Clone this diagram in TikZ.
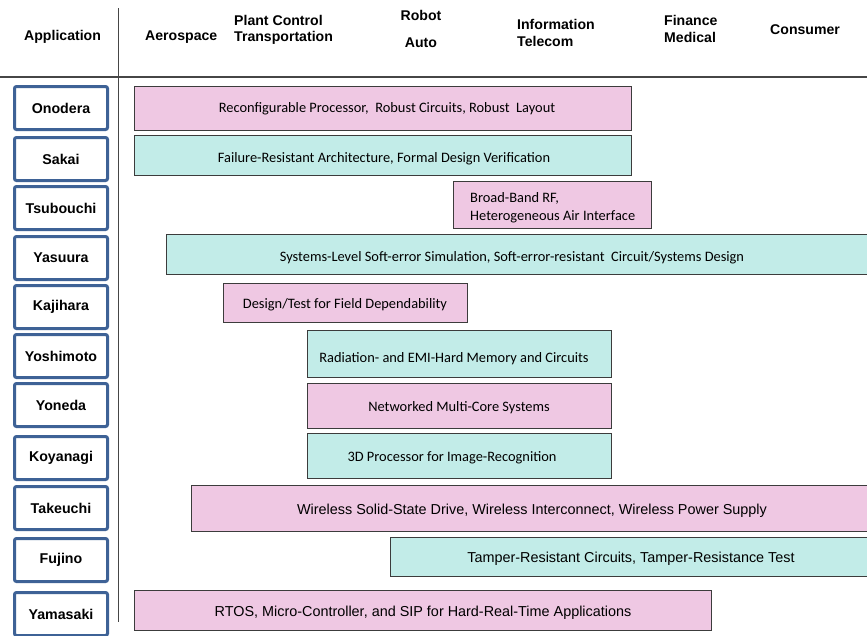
\documentclass[tikz,border=0pt]{standalone}
\usepackage{fontspec}
\setmainfont{Liberation Sans}
\newfontfamily\calib{Carlito}
\definecolor{barpink}{RGB}{239,200,227}
\definecolor{barteal}{RGB}{194,236,232}
\definecolor{barline}{RGB}{60,60,60}
\definecolor{namebox}{RGB}{62,98,150}
\definecolor{rule}{RGB}{70,70,70}
\tikzset{
  namecell/.style={draw=namebox, line width=3pt, rounded corners=2pt, fill=white,
    minimum width=93pt, minimum height=43pt, inner sep=0pt,
    font=\fontsize{14.2}{16}\selectfont\bfseries},
  head/.style={font=\fontsize{14.1}{16}\selectfont\bfseries, inner sep=0pt},
  barbox/.style={draw=barline, line width=1.1pt, inner sep=0pt},
  pinkbar/.style={barbox, fill=barpink},
  tealbar/.style={barbox, fill=barteal},
  ctext/.style={font=\calib\fontsize{14.4}{17.5}\selectfont, inner sep=0pt, yshift=-1.5pt},
  atext/.style={font=\fontsize{14.4}{17}\selectfont, inner sep=0pt, yshift=-1.5pt}
}
\newcommand{\appbar}[6]{%
  \node[#6, minimum width={#4pt-#2pt-1.1pt}, minimum height={#5pt-#3pt-1.1pt}]
    (#1) at ({(#2+#4)/2}, {-(#3+#5)/2}) {};}
\begin{document}
\begin{tikzpicture}[x=1pt, y=1pt]
\useasboundingbox (0,0) rectangle (867,-635);
\clip (0,0) rectangle (867,-635);

% header
\begin{scope}[yshift=-1.5pt]
\node[head, anchor=west] (happ) at (24,-35) {Application};
\node[head, anchor=west] (haero) at (145,-36) {Aerospace};
\node[head, anchor=west] (hplant) at (234,-19) {Plant Control};
\node[head, anchor=west] (htrans) at (234,-36) {Transportation};
\node[head] (hrobot) at (421,-14) {Robot};
\node[head] (hauto) at (421,-41) {Auto};
\node[head, anchor=west] (hinfo) at (517,-23) {Information};
\node[head, anchor=west] (htele) at (517,-40) {Telecom};
\node[head, anchor=west] (hfin) at (664,-19) {Finance};
\node[head, anchor=west] (hmed) at (664,-36) {Medical};
\node[head, anchor=west] (hcons) at (770,-28) {Consumer};
\end{scope}

% grid lines
\coordinate (vtop) at (118,-8);
\coordinate (vbot) at (118,-622);
\coordinate (hl) at (0,-77);
\coordinate (hr) at (867,-77);
\draw[rule, line width=1pt] (vtop) -- (vbot);
\draw[rule, line width=1.2pt] (hl) -- (hr);

% names
\node[namecell] (nOnodera) at (61,-108) {Onodera};
\node[namecell] (nSakai) at (61,-159) {Sakai};
\node[namecell] (nTsubouchi) at (61,-208) {Tsubouchi};
\node[namecell] (nYasuura) at (61,-258) {Yasuura};
\node[namecell] (nKajihara) at (61,-307) {Kajihara};
\node[namecell] (nYoshimoto) at (61,-356) {Yoshimoto};
\node[namecell] (nYoneda) at (61,-405) {Yoneda};
\node[namecell] (nKoyanagi) at (61,-458) {Koyanagi};
\node[namecell] (nTakeuchi) at (61,-508) {Takeuchi};
\node[namecell] (nFujino) at (61,-560) {Fujino};
\node[namecell] (nYamasaki) at (61,-614) {Yamasaki};

% research bars
\appbar{bOnodera}{134}{86}{632}{131}{pinkbar}
\appbar{bSakai}{134}{135}{632}{176}{tealbar}
\appbar{bTsubouchi}{453}{181}{652}{229}{pinkbar}
\appbar{bYasuura}{166}{234}{890}{275}{tealbar}
\appbar{bKajihara}{223}{283}{468}{323}{pinkbar}
\appbar{bYoshimoto}{307}{330}{612}{378}{tealbar}
\appbar{bYoneda}{307}{383}{612}{429}{pinkbar}
\appbar{bKoyanagi}{307}{433}{612}{479}{tealbar}
\appbar{bTakeuchi}{191}{485}{890}{532}{pinkbar}
\appbar{bFujino}{390}{537}{890}{577}{tealbar}
\appbar{bYamasaki}{134}{590}{712}{631}{pinkbar}

% bar labels
\node[ctext] (tOnodera) at (387,-107) {Reconfigurable Processor,\ \ Robust Circuits, Robust\ \ Layout};
\node[ctext] (tSakai) at (384,-157) {Failure-Resistant Architecture, Formal Design Verification};
\node[ctext, anchor=west, align=left] (tTsubouchi) at (470,-206) {Broad-Band RF,\\Heterogeneous Air Interface};
\node[ctext] (tYasuura) at (512,-256) {Systems-Level Soft-error Simulation, Soft-error-resistant\ \ Circuit/Systems Design};
\node[ctext] (tKajihara) at (345,-303) {Design/Test for Field Dependability};
\node[ctext] (tYoshimoto) at (454,-357) {Radiation- and EMI-Hard Memory and Circuits};
\node[ctext] (tYoneda) at (459,-406) {Networked Multi-Core Systems};
\node[ctext] (tKoyanagi) at (452,-456) {3D Processor for Image-Recognition};
\node[atext] (tTakeuchi) at (532,-509) {Wireless Solid-State Drive, Wireless Interconnect, Wireless Power Supply};
\node[atext] (tFujino) at (631,-557) {Tamper-Resistant Circuits, Tamper-Resistance Test};
\node[atext] (tYamasaki) at (423,-611) {RTOS, Micro-Controller, and SIP for Hard-Real-Time Applications};
\end{tikzpicture}
\end{document}
